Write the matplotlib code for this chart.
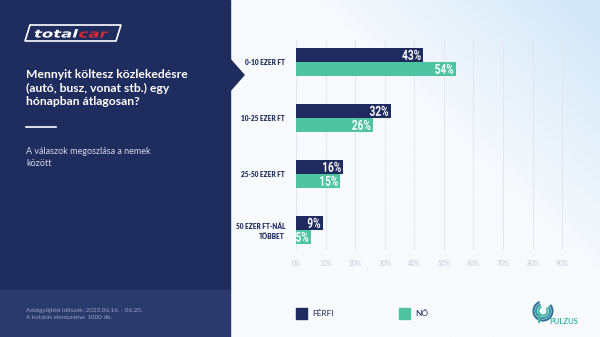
import numpy as np
import matplotlib.pyplot as plt
from matplotlib.patches import Rectangle, Polygon, Arc, PathPatch
from matplotlib.colors import LinearSegmentedColormap
from matplotlib.textpath import TextPath
from matplotlib.font_manager import FontProperties
from matplotlib.transforms import Affine2D

# survey data (percent)
categories = ["0-10 EZER FT", "10-25 EZER FT", "25-50 EZER FT", "50 EZER FT-NÁL\nTÖBBET"]
ferfi = [43, 32, 16, 9]
no = [54, 26, 15, 5]
ticks = [0, 10, 20, 30, 40, 50, 60, 70, 80, 90]

NAVY = "#1f2b5e"
GREEN = "#4fc4a0"
PANEL = "#1f2d5e"
W, H = 600, 337

fig = plt.figure(figsize=(6, 3.37), dpi=100)


def pixel_axes(z):
    a = fig.add_axes([0, 0, 1, 1], zorder=z)
    a.set_xlim(0, W)
    a.set_ylim(H, 0)
    a.axis("off")
    a.patch.set_alpha(0)
    return a


def path_text(a, x, base, s, size, sx, color, family="Roboto", weight="bold", style="normal",
              ha="left", z=5):
    """Draw text as a path (horizontally stretched by sx), baseline at `base`."""
    tp = TextPath((0, 0), s, size=size, prop=FontProperties(family=family, weight=weight, style=style))
    w = tp.get_extents().x1 * sx
    x0 = x - w if ha == "right" else x
    tr = Affine2D().scale(sx, -1).translate(x0, base) + a.transData
    a.add_patch(PathPatch(tp, transform=tr, fc=color, ec="none", zorder=z))
    return x0 + w


# full-figure canvas in pixel coordinates for the decoration
bg = pixel_axes(0)

# light gradient behind the chart
xx, yy = np.meshgrid(np.linspace(230, W, 200), np.linspace(0, H, 120))
t = np.clip((xx - 380) / 220 * 0.8 + (1 - yy / 160) * 0.6 - 0.35, 0, 1)
grad = LinearSegmentedColormap.from_list("g", ["#f8fafd", "#d2e7f8"])
bg.imshow(t, cmap=grad, extent=[230, W, H, 0], aspect="auto", vmin=0, vmax=1, zorder=0)

# left navy panel + footer band
bg.add_patch(Rectangle((0, 0), 230, 290, color=PANEL, zorder=1))
bg.add_patch(Rectangle((0, 290), 230, H - 290, color="#2b3a6c", zorder=1))
bg.add_patch(Polygon([(229, 58), (244, 75), (229, 92)], closed=True, color=PANEL, zorder=1))

# totalcar logo
bg.add_patch(Polygon([(30, 25), (121, 25), (116, 41), (25, 41)], closed=True,
                     fill=False, ec="white", lw=1.2, zorder=2))
xe = path_text(bg, 34, 37.5, "total", 11, 1.5, "white", family="DejaVu Sans", style="oblique")
path_text(bg, xe + 0.5, 37.5, "car", 11, 1.5, "#d42a33", family="DejaVu Sans", style="oblique")

# title block
bg.text(26, 88, "Mennyit költesz közlekedésre\n(autó, busz, vonat stb.) egy\nhónapban átlagosan?",
        color="white", fontsize=8.7, fontweight="bold", family="Lato", va="center", ha="left",
        linespacing=1.25, zorder=3)
bg.plot([26, 56], [127, 127], color="white", lw=1.2, zorder=3)
bg.text(26, 157.5, "A válaszok megoszlása a nemek\nközött", color="#d3d8e6", fontsize=6.5,
        family="Lato", va="center", ha="left", linespacing=1.45, zorder=3)
bg.text(26, 314, "Adatgyűjtési időszak: 2023.06.16. - 06.20.\nA kutatás elemszáma: 1000 db.",
        color="#9aa4c4", fontsize=4.5, family="Lato", va="center", ha="left",
        linespacing=1.6, zorder=3)

# legend
bg.add_patch(Rectangle((296, 308), 11, 11, color=NAVY, zorder=3))
bg.text(312, 314, "FÉRFI", color=NAVY, fontsize=6, family="Lato", va="center", zorder=3)
bg.add_patch(Rectangle((399, 308), 11, 11, color=GREEN, zorder=3))
bg.text(415, 314, "NŐ", color=NAVY, fontsize=6, family="Lato", va="center", zorder=3)

# pulzus logo
for r, c in [(9.5, "#2f6f9a"), (7, "#3797a2"), (4.5, "#45b9a6")]:
    bg.add_patch(Arc((543, 311), 2 * r, 2 * r, theta1=-40, theta2=250, color=c, lw=1.5, zorder=3))
bg.plot([538.5, 538.5], [314, 322], color="#45b9a6", lw=1.5, zorder=3)
bg.text(549, 321, "PULZUS", color="#3bb8a6", fontsize=5.6, fontweight="bold", family="Lato",
        va="center", ha="left", zorder=3)

# bar chart
px = lambda x0, y0, x1, y1: [x0 / W, 1 - y1 / H, (x1 - x0) / W, (y1 - y0) / H]
ax = fig.add_axes(px(296, 40, 577, 250), zorder=1)
ax.patch.set_alpha(0)
y = np.arange(len(categories))
hgt = 0.25
ax.barh(y - hgt / 2, ferfi, height=hgt, color=NAVY, zorder=3)
ax.barh(y + hgt / 2, no, height=hgt, color=GREEN, zorder=3)

ax.set_xlim(0, 95)
ax.set_ylim(3.36, -0.39)
ax.set_xticks(ticks)
ax.set_xticklabels([f"{v}%" for v in ticks], color="#c3cad6", fontsize=4.8, family="Lato")
ax.set_yticks(y)
ax.set_yticklabels(categories, color=NAVY, fontsize=4.7, fontweight="heavy", family="Lato",
                   ha="right", linespacing=1.5)
ax.tick_params(axis="x", length=0, pad=7)
ax.tick_params(axis="y", length=0, pad=8)
ax.grid(axis="x", color="#e3e8ef", lw=0.8, zorder=0)
for s in ax.spines.values():
    s.set_visible(False)

# value labels in a condensed style, placed at the bar ends (overlay above the bars)
top = pixel_axes(2)
to_top = ax.transData + top.transData.inverted()
for vals, off in [(ferfi, -hgt / 2), (no, hgt / 2)]:
    for yi, v in zip(y, vals):
        bx, by = to_top.transform((v, yi + off))
        path_text(top, bx - 2.5, by + 5, f"{v}%", 14, 0.72, "white", ha="right")

fig.savefig("out.png", dpi=100)
